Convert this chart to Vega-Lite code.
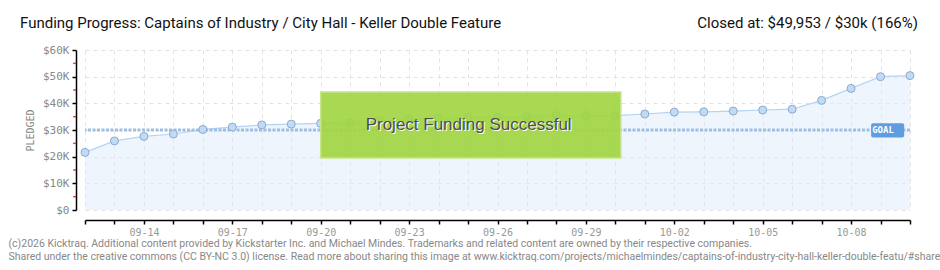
{
  "$schema": "https://vega.github.io/schema/vega-lite/v6.json",
  "width": 825,
  "height": 160,
  "autosize": {"type": "none"},
  "padding": {"left": 85, "top": 50, "right": 30, "bottom": 60},
  "background": "white",
  "config": {
    "view": {"stroke": null},
    "axis": {"labelOverlap": false}
  },
  "datasets": {
    "pledges": [
      {"date": "2025-09-12", "pledged": 21600},
      {"date": "2025-09-13", "pledged": 25900},
      {"date": "2025-09-14", "pledged": 27600},
      {"date": "2025-09-15", "pledged": 28500},
      {"date": "2025-09-16", "pledged": 30200},
      {"date": "2025-09-17", "pledged": 31100},
      {"date": "2025-09-18", "pledged": 31900},
      {"date": "2025-09-19", "pledged": 32200},
      {"date": "2025-09-20", "pledged": 32500},
      {"date": "2025-09-21", "pledged": 32700},
      {"date": "2025-09-22", "pledged": 33500},
      {"date": "2025-09-23", "pledged": 34000},
      {"date": "2025-09-24", "pledged": 34400},
      {"date": "2025-09-25", "pledged": 34700},
      {"date": "2025-09-26", "pledged": 34750},
      {"date": "2025-09-27", "pledged": 35000},
      {"date": "2025-09-28", "pledged": 35400},
      {"date": "2025-09-29", "pledged": 35400},
      {"date": "2025-09-30", "pledged": 35400},
      {"date": "2025-10-01", "pledged": 36000},
      {"date": "2025-10-02", "pledged": 36700},
      {"date": "2025-10-03", "pledged": 36800},
      {"date": "2025-10-04", "pledged": 37100},
      {"date": "2025-10-05", "pledged": 37500},
      {"date": "2025-10-06", "pledged": 37800},
      {"date": "2025-10-07", "pledged": 41100},
      {"date": "2025-10-08", "pledged": 45600},
      {"date": "2025-10-09", "pledged": 50000},
      {"date": "2025-10-10", "pledged": 50400}
    ]
  },
  "layer": [
    {
      "data": {"name": "pledges"},
      "mark": {"type": "area", "fill": "#ddebfb", "fillOpacity": 0.5},
      "encoding": {
        "x": {
          "field": "date",
          "type": "temporal",
          "scale": {
            "type": "utc",
            "domain": [
              {"year": 2025, "month": 9, "date": 12, "utc": true},
              {"year": 2025, "month": 10, "date": 10, "utc": true}
            ]
          },
          "axis": {
            "orient": "bottom",
            "offset": 10,
            "tickCount": {"interval": "day", "step": 1},
            "labelExpr": "round((datum.value - utc(2025,8,14))/864e5) % 3 == 0 ? utcFormat(datum.value, '%m-%d') : ''",
            "labelOverlap": false,
            "labelFlush": false,
            "labelFont": "DejaVu Sans Mono",
            "labelFontSize": 10,
            "labelColor": "#999999",
            "labelPadding": 3,
            "grid": true,
            "gridDash": [4, 4],
            "gridColor": "#e2e2e2",
            "domainColor": "#000000",
            "domainWidth": 1.5,
            "tickColor": "#000000",
            "tickSize": 4,
            "tickWidth": 1.5,
            "title": [
              "(c)2026 Kicktraq. Additional content provided by Kickstarter Inc. and Michael Mindes. Trademarks and related content are owned by their respective companies.",
              "Shared under the creative commons (CC BY-NC 3.0) license. Read more about sharing this image at www.kicktraq.com/projects/michaelmindes/captains-of-industry-city-hall-keller-double-featu/#share"
            ],
            "titleAnchor": "start",
            "titleAlign": "left",
            "titleX": -77,
            "titleY": 23,
            "titleBaseline": "middle",
            "titleFont": "Roboto",
            "titleFontSize": 10.5,
            "titleFontWeight": "normal",
            "titleColor": "#888888",
            "titleLineHeight": 13
          }
        },
        "y": {
          "field": "pledged",
          "type": "quantitative",
          "scale": {"domain": [0, 60000], "nice": false},
          "axis": {
            "offset": 9,
            "tickCount": 20,
            "values": [0, 10000, 20000, 30000, 40000, 50000, 60000],
            "labelExpr": "datum.value == 0 ? '$0' : '$' + round(datum.value/1000) + 'K'",
            "labelOverlap": false,
            "labelFont": "DejaVu Sans Mono",
            "labelFontSize": 11,
            "labelColor": "#888888",
            "labelPadding": 3,
            "tickSize": 4,
            "tickWidth": 1.5,
            "tickColor": "#000000",
            "domainColor": "#000000",
            "domainWidth": 1.5,
            "grid": true,
            "gridDash": [4, 4],
            "gridColor": "#e2e2e2",
            "title": "PLEDGED",
            "titleFont": "DejaVu Sans Mono",
            "titleFontSize": 10,
            "titleFontWeight": "normal",
            "titleColor": "#888888",
            "titleX": -46,
            "titleY": 80,
            "titleAngle": -90,
            "titleBaseline": "middle",
            "titleAlign": "center"
          }
        }
      }
    },
    {
      "data": {"values": [{"minor": 5000}, {"minor": 15000}, {"minor": 25000}, {"minor": 35000}, {"minor": 45000}, {"minor": 55000}]},
      "mark": {"type": "tick", "orient": "horizontal", "color": "#e00000", "size": 3, "thickness": 1.5, "xOffset": -10.5},
      "encoding": {
        "x": {"datum": {"year": 2025, "month": 9, "date": 12, "utc": true}, "type": "temporal"},
        "y": {"field": "minor", "type": "quantitative"}
      }
    },
    {
      "data": {"name": "pledges"},
      "mark": {"type": "line", "stroke": "#b5d3f3", "strokeWidth": 1.2},
      "encoding": {
        "x": {"field": "date", "type": "temporal"},
        "y": {"field": "pledged", "type": "quantitative"}
      }
    },
    {
      "data": {"values": [{"goal": 30000}]},
      "mark": {"type": "rule", "stroke": "#9dbfe6", "strokeWidth": 3, "strokeDash": [3, 1.5]},
      "encoding": {"y": {"field": "goal", "type": "quantitative"}}
    },
    {
      "data": {"name": "pledges"},
      "mark": {"type": "point", "shape": "circle", "filled": true, "fill": "#bfdbf7", "stroke": "#8fa9c9", "strokeWidth": 1, "size": 64, "opacity": 1},
      "encoding": {
        "x": {"field": "date", "type": "temporal"},
        "y": {"field": "pledged", "type": "quantitative"}
      }
    },
    {
      "data": {"values": [{"start": "2025-09-20T00:00:00Z", "end": "2025-09-30T04:30:00Z", "top": 44250, "bottom": 19500}]},
      "mark": {"type": "rect", "fill": "#a2d543", "fillOpacity": 0.92, "stroke": "#c6e58a", "strokeWidth": 1.5},
      "encoding": {
        "x": {"field": "start", "type": "temporal"},
        "x2": {"field": "end"},
        "y": {"field": "top", "type": "quantitative"},
        "y2": {"field": "bottom"}
      }
    },
    {
      "data": {"values": [{"at": "2025-09-25T00:30:00Z", "level": 31900, "label": "Project Funding Successful"}]},
      "mark": {"type": "text", "font": "Liberation Sans", "fontSize": 17, "color": "#ffffff", "align": "center", "baseline": "middle", "dx": 1, "dy": 1},
      "encoding": {
        "x": {"field": "at", "type": "temporal"},
        "y": {"field": "level", "type": "quantitative"},
        "text": {"field": "label"}
      }
    },
    {
      "data": {"values": [{"at": "2025-09-25T00:30:00Z", "level": 31900, "label": "Project Funding Successful"}]},
      "mark": {"type": "text", "font": "Liberation Sans", "fontSize": 17, "color": "#4d4d4d", "align": "center", "baseline": "middle"},
      "encoding": {
        "x": {"field": "at", "type": "temporal"},
        "y": {"field": "level", "type": "quantitative"},
        "text": {"field": "label"}
      }
    },
    {
      "data": {"values": [{"start": "2025-10-08T16:20:00Z", "end": "2025-10-09T19:15:00Z", "top": 32500, "bottom": 27200}]},
      "mark": {"type": "rect", "fill": "#5e9de0", "cornerRadius": 2},
      "encoding": {
        "x": {"field": "start", "type": "temporal"},
        "x2": {"field": "end"},
        "y": {"field": "top", "type": "quantitative"},
        "y2": {"field": "bottom"}
      }
    },
    {
      "data": {"values": [{"at": "2025-10-09T02:00:00Z", "level": 29900, "label": "GOAL"}]},
      "mark": {"type": "text", "font": "DejaVu Sans Mono", "fontSize": 9, "fontWeight": "bold", "color": "#ffffff", "align": "center", "baseline": "middle"},
      "encoding": {
        "x": {"field": "at", "type": "temporal"},
        "y": {"field": "level", "type": "quantitative"},
        "text": {"field": "label"}
      }
    },
    {
      "data": {"values": [{"at": "2025-09-12T00:00:00Z", "level": 60000, "label": "Funding Progress: Captains of Industry / City Hall - Keller Double Feature"}]},
      "mark": {"type": "text", "font": "Roboto", "fontSize": 15, "color": "#111111", "align": "left", "baseline": "middle", "dx": -65, "dy": -27},
      "encoding": {
        "x": {"field": "at", "type": "temporal"},
        "y": {"field": "level", "type": "quantitative"},
        "text": {"field": "label"}
      }
    },
    {
      "data": {"values": [{"at": "2025-10-10T00:00:00Z", "level": 60000, "label": "Closed at:  $49,953 /  $30k (166%)"}]},
      "mark": {"type": "text", "font": "Roboto", "fontSize": 15, "color": "#111111", "align": "right", "baseline": "middle", "dx": 8, "dy": -27},
      "encoding": {
        "x": {"field": "at", "type": "temporal"},
        "y": {"field": "level", "type": "quantitative"},
        "text": {"field": "label"}
      }
    }
  ]
}
